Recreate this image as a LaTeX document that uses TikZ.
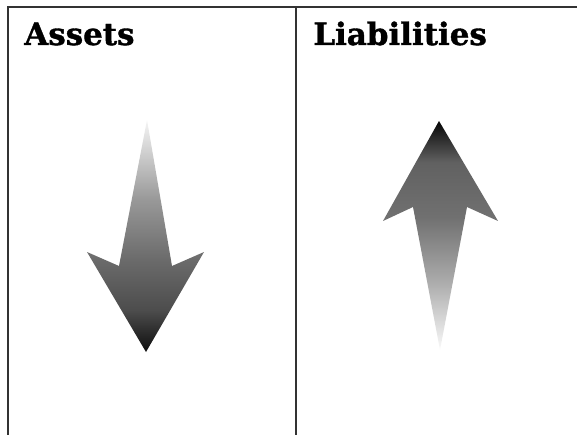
\documentclass[tikz,border=0pt]{standalone}
\usepackage{fontspec}
\usepackage{tikz}
\newfontfamily\headfont[BoldFont={DejaVu Serif Bold}, BoldFeatures={FakeBold=1.2}]{DejaVu Serif}
\pgfdeclareverticalshading{assetfade}{100bp}{color(0bp)=(black!95); color(25bp)=(black!95); color(34bp)=(black!70); color(45bp)=(black!58); color(58bp)=(black!40); color(75bp)=(black!4); color(100bp)=(black!4)}
\pgfdeclareverticalshading{liabfade}{100bp}{color(0bp)=(black!2); color(25bp)=(black!2); color(40bp)=(black!33); color(54bp)=(black!56); color(66bp)=(black!62); color(75bp)=(black!98); color(100bp)=(black!98)}

\begin{document}
\begin{tikzpicture}[x=0.02cm, y=-0.02cm,
  frame/.style={draw=black!80, line width=1.1pt},
  head/.style={anchor=base west, inner sep=0pt, font=\headfont\bfseries\fontsize{17.6}{20}\selectfont}]
\useasboundingbox (0,0) rectangle (577,435);
% frame
\draw [frame] (8,435) -- (8,7) -- (577,7) ;
\draw [frame] (296,7) -- (296,435) ;
% headings
\node [head] (assets) at (24,45) {Assets};
\node [head] (liab) at (313,45) {Liabilities};
% arrows
\shade [shading=assetfade] (147,120) -- (172,266) -- (204,252) -- (146,352) -- (87,252) -- (119,266) -- cycle;
\shade [shading=liabfade] (439,121) -- (498,221) -- (467,207) -- (440,350) -- (413,207) -- (383,221) -- cycle;
\end{tikzpicture}
\end{document}
